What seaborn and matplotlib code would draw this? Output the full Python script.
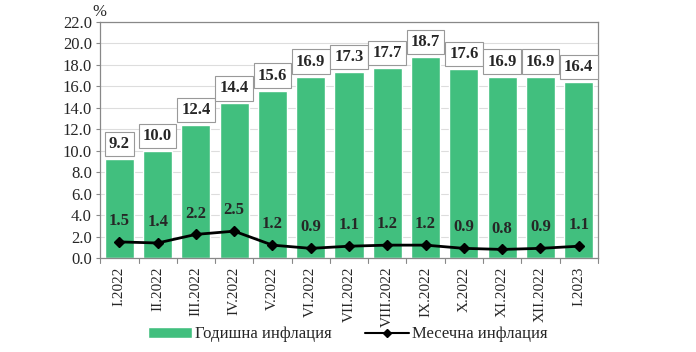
import matplotlib
matplotlib.use('Agg')
import matplotlib.pyplot as plt
import seaborn as sns
import pandas as pd
from matplotlib.lines import Line2D
from matplotlib.patches import Patch

months = ['I.2022', 'II.2022', 'III.2022', 'IV.2022', 'V.2022', 'VI.2022', 'VII.2022',
          'VIII.2022', 'IX.2022', 'X.2022', 'XI.2022', 'XII.2022', 'I.2023']
annual = [9.2, 10.0, 12.4, 14.4, 15.6, 16.9, 17.3, 17.7, 18.7, 17.6, 16.9, 16.9, 16.4]
monthly = [1.5, 1.4, 2.2, 2.5, 1.2, 0.9, 1.1, 1.2, 1.2, 0.9, 0.8, 0.9, 1.1]

df = pd.DataFrame({'month': months, 'annual': annual, 'monthly': monthly})

sns.set_style('white')
plt.rcParams['font.family'] = ['Liberation Serif', 'DejaVu Serif']

bar_color = '#41BF7E'

fig = plt.figure(figsize=(6.96, 3.52), dpi=100)
ax = fig.add_axes([0.144, 0.267, 0.715, 0.671])

ax.yaxis.grid(True, color='#dddddd', linewidth=0.8)
ax.set_axisbelow(True)

sns.barplot(data=df, x='month', y='annual', color=bar_color, width=0.76,
            saturation=1, ax=ax, zorder=2)
ax.plot(range(len(months)), monthly, color='black', marker='D', markersize=5.5,
        linewidth=2, zorder=4)

for i, v in enumerate(annual):
    ax.text(i, v + 0.65, f'{v:.1f}', ha='center', va='bottom', fontsize=12,
            fontweight='bold', zorder=5,
            bbox=dict(boxstyle='square,pad=0.25', facecolor='white',
                      edgecolor='#999999', linewidth=0.8))
for i, v in enumerate(monthly):
    ax.text(i, v + 1.2, f'{v:.1f}', ha='center', va='bottom', fontsize=12,
            fontweight='bold', zorder=5)

ax.set_ylim(0, 22)
ax.set_xlim(-0.5, len(months) - 0.5)
ax.set_yticks(range(0, 23, 2))
ax.set_yticklabels([f'{t:.1f}' for t in range(0, 23, 2)], fontsize=12)
ax.set_xticks(range(len(months)))
ax.set_xticklabels(months, rotation=90, fontsize=11)
ax.tick_params(axis='x', length=0, pad=6)
ax.tick_params(axis='y', length=3, left=True, color='#888888', pad=3)
for i in range(len(months) + 1):
    ax.plot([i - 0.5, i - 0.5], [0, -0.5], color='#888888', linewidth=0.8,
            clip_on=False)
ax.set_xlabel('')
ax.set_ylabel('')
for s in ax.spines.values():
    s.set_color('#888888')
    s.set_linewidth(0.9)

ax.text(-0.7, 22.15, '%', fontsize=12, ha='left', va='bottom')

handles = [Patch(facecolor=bar_color, label='Годишна инфлация'),
           Line2D([0], [0], color='black', marker='D', markersize=4.5,
                  linewidth=1.5, label='Месечна инфлация')]
fig.legend(handles=handles, loc='center', bbox_to_anchor=(0.5, 0.05), ncol=2,
           frameon=False, fontsize=12, handlelength=2.6, columnspacing=2.0,
           handletextpad=0.2)

fig.savefig('out.png', dpi=100)
